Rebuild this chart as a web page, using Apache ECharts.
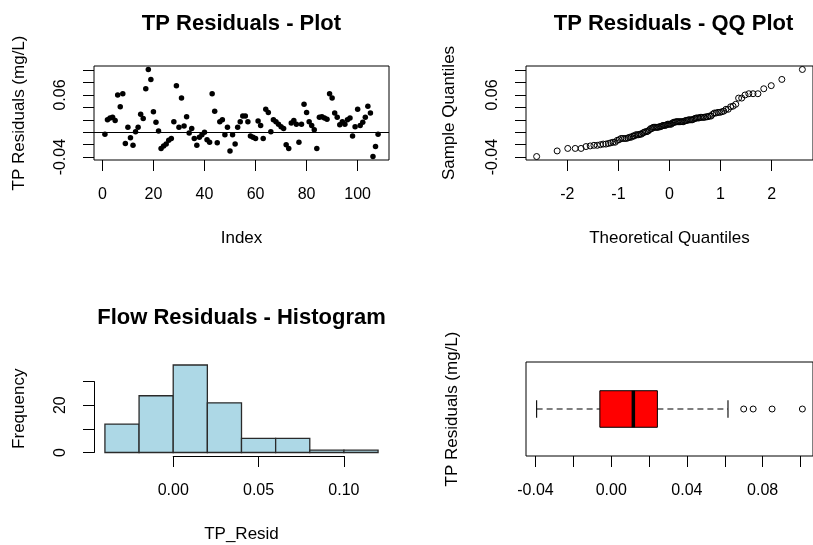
<!DOCTYPE html>
<html><head><meta charset="utf-8">
<script src="https://cdn.jsdelivr.net/npm/echarts@6/dist/echarts.min.js"></script>
<style>html,body{margin:0;padding:0;background:#fff}#c{width:813px;height:545px}</style>
</head><body><div id="c"></div>
<script>
// ---- data ----
const tpResid = [
 -0.003, 0.020, 0.023, 0.024, 0.019, 0.060, 0.041, 0.062, -0.018, 0.008,
 -0.009, -0.021, 0.001, 0.008, 0.029, 0.022, 0.070, 0.101, 0.085, 0.033,
 0.016, 0.002, -0.026, -0.022, -0.019, -0.013, -0.010, 0.017, 0.075, 0.008,
 0.055, 0.010, 0.025, -0.001, 0.006, -0.010, -0.021, -0.008, -0.004, 0.000,
 -0.012, -0.016, 0.062, 0.034, -0.017, 0.017, 0.020, -0.004, 0.008, -0.030,
 -0.004, -0.019, 0.008, 0.017, 0.026, 0.026, 0.017, -0.006, -0.008, -0.010,
 0.018, 0.011, -0.010, 0.037, 0.032, 0.001, 0.020, 0.017, 0.013, 0.009,
 0.006, -0.020, -0.026, 0.015, 0.019, 0.013, -0.016, 0.013, 0.045, 0.032,
 0.017, 0.011, 0.004, -0.026, 0.024, 0.025, 0.023, 0.021, 0.062, 0.055,
 0.031, 0.024, 0.012, 0.017, 0.013, 0.020, 0.023, -0.006, 0.009, 0.037,
 0.011, 0.016, 0.024, 0.042, 0.031, -0.039, -0.023, -0.003
];
const histBreaks = [-0.04, -0.02, 0.00, 0.02, 0.04, 0.06, 0.08, 0.10, 0.12];
const histCounts = [12, 24, 37, 21, 6, 6, 1, 1];
const boxStats = [-0.0394, -0.0060, 0.0117, 0.0244, 0.0617]; // min, Q1, median, Q3, max
const boxOutliers = [0.070, 0.075, 0.085, 0.101];

// ---- tick labels ----
const residTicks = [-0.04, -0.02, 0.00, 0.02, 0.04, 0.06, 0.08, 0.10];
const residLabels = [-0.04, 0.06];
const indexTicks = [0, 20, 40, 60, 80, 100];
const qqTicks = [-2, -1, 0, 1, 2];
const histXTicks = [0.00, 0.05, 0.10];
const histYTicks = [0, 10, 20, 30];
const histYLabels = [0, 20];
const boxTicks = [-0.04, -0.02, 0.00, 0.02, 0.04, 0.06, 0.08, 0.10];
const boxLabels = [-0.04, 0.00, 0.04, 0.08];

// ---- helpers ----
function rng(a, b) { const d = (b - a) * 0.04; return [a - d, b + d]; }
function qnorm(p) {
  const a=[-3.969683028665376e+01,2.209460984245205e+02,-2.759285104469687e+02,1.383577518672690e+02,-3.066479806614716e+01,2.506628277459239e+00];
  const b=[-5.447609879822406e+01,1.615858368580409e+02,-1.556989798598866e+02,6.680131188771972e+01,-1.328068155288572e+01];
  const c=[-7.784894002430293e-03,-3.223964580411365e-01,-2.400758277161838e+00,-2.549732539343734e+00,4.374664141464968e+00,2.938163982698783e+00];
  const d=[7.784695709041462e-03,3.224671290700398e-01,2.445134137142996e+00,3.754408661907416e+00];
  const pl=0.02425; let q, r;
  if (p < pl) { q=Math.sqrt(-2*Math.log(p)); return (((((c[0]*q+c[1])*q+c[2])*q+c[3])*q+c[4])*q+c[5])/((((d[0]*q+d[1])*q+d[2])*q+d[3])*q+1); }
  if (p <= 1-pl) { q=p-0.5; r=q*q; return (((((a[0]*r+a[1])*r+a[2])*r+a[3])*r+a[4])*r+a[5])*q/(((((b[0]*r+b[1])*r+b[2])*r+b[3])*r+b[4])*r+1); }
  q=Math.sqrt(-2*Math.log(1-p)); return -(((((c[0]*q+c[1])*q+c[2])*q+c[3])*q+c[4])*q+c[5])/((((d[0]*q+d[1])*q+d[2])*q+d[3])*q+1);
}

const n = tpResid.length;
const plotData = tpResid.map((v, i) => [i + 1, v]);
const sorted = tpResid.slice().sort((x, y) => x - y);
const qqData = sorted.map((v, i) => [qnorm((i + 1 - 0.5) / n), v]);
const residRange = rng(Math.min(...tpResid), Math.max(...tpResid));
const idxRange = rng(1, n);
const qqRange = rng(qqData[0][0], qqData[n - 1][0]);
const histXRange = rng(histBreaks[0], histBreaks[histBreaks.length - 1]);
const histYRange = rng(0, Math.max(...histCounts));
const boxXRange = rng(Math.min(boxStats[0], ...boxOutliers), Math.max(boxStats[4], ...boxOutliers));
const boxPos = 1;
const boxYRange = rng(0.5, 1.5);
const histData = histCounts.map((c, i) => [histBreaks[i], histBreaks[i + 1], c]);

const FONT = 'Liberation Sans, Arial, sans-serif';
const TICK = 16, NAME = 17;

const G0 = {left: 94, top: 66, width: 295, height: 94};
const G1 = {left: 526, top: 66, width: 295, height: 94};
const G2 = {left: 94, top: 361.5, width: 295, height: 94.5};
const G5 = {left: 526, top: 362, width: 295, height: 94};
const xs = histXRange[1] - histXRange[0];
const G3 = {left: G2.left + (histXTicks[0] - histXRange[0]) / xs * G2.width,
            width: (histXTicks[histXTicks.length-1] - histXTicks[0]) / xs * G2.width,
            top: G2.top, height: G2.height};
const ys = histYRange[1] - histYRange[0];
const yTop = histYTicks[histYTicks.length-1];
const G4 = {left: G2.left, width: G2.width,
            top: G2.top + (histYRange[1] - yTop) / ys * G2.height,
            height: (yTop - histYTicks[0]) / ys * G2.height};

function frameGrid(g) { return Object.assign({show: true, borderColor: '#000', borderWidth: 1, backgroundColor: 'transparent', containLabel: false}, g); }
function plainGrid(g) { return Object.assign({show: false, containLabel: false}, g); }

function axis(gi, r, ticks, labels, fmt, extra, labelExtra) {
  return Object.assign({
    type: 'value', gridIndex: gi, min: r[0], max: r[1], scale: true,
    axisLine: {show: false, onZero: false},
    splitLine: {show: false},
    axisTick: {show: true, inside: false, length: 11, customValues: ticks, lineStyle: {color: '#000', width: 1}},
    axisLabel: Object.assign({show: true, customValues: labels, formatter: fmt, color: '#000', fontSize: TICK, fontFamily: FONT, margin: 27}, labelExtra || {}),
    nameTextStyle: {color: '#000', fontSize: NAME, fontFamily: FONT},
    nameLocation: 'middle'
  }, extra || {});
}
const f2 = v => Number(v).toFixed(2);
const fi = v => String(Math.round(v));
const hidden = (gi, r) => ({type: 'value', gridIndex: gi, min: r[0], max: r[1], show: false});
const rot = {rotate: 90, margin: 25};

const option = {
  animation: false,
  backgroundColor: '#fff',
  title: [
    {text: 'TP Residuals - Plot', left: 241.5, top: 12.5, textAlign: 'center', padding: 0,
     textStyle: {fontSize: 22, fontWeight: 'bold', fontFamily: FONT, color: '#000'}},
    {text: 'TP Residuals - QQ Plot', left: 673.5, top: 12.5, textAlign: 'center', padding: 0,
     textStyle: {fontSize: 22, fontWeight: 'bold', fontFamily: FONT, color: '#000'}},
    {text: 'Flow Residuals - Histogram', left: 241.5, top: 307, textAlign: 'center', padding: 0,
     textStyle: {fontSize: 22, fontWeight: 'bold', fontFamily: FONT, color: '#000'}}
  ],
  grid: [frameGrid(G0), frameGrid(G1), plainGrid(G2), plainGrid(G3), plainGrid(G4), frameGrid(G5)],
  xAxis: [
    axis(0, idxRange, indexTicks, indexTicks, fi, {name: 'Index', nameGap: 70}),
    axis(1, qqRange, qqTicks, qqTicks, fi, {name: 'Theoretical Quantiles', nameGap: 70}),
    axis(2, histXRange, [], [], f2, {name: 'TP_Resid', nameGap: 70, axisTick: {show: false}, axisLabel: {show: false}}),
    axis(3, [histXTicks[0], histXTicks[histXTicks.length-1]], histXTicks, histXTicks, f2,
         {axisLine: {show: true, onZero: false, lineStyle: {color: '#000', width: 1}}}),
    hidden(4, [0, 1]),
    axis(5, boxXRange, boxTicks, boxLabels, f2)
  ],
  yAxis: [
    axis(0, residRange, residTicks, residLabels, f2, {name: 'TP Residuals (mg/L)', nameGap: 66, nameRotate: 90}, rot),
    axis(1, residRange, residTicks, residLabels, f2, {name: 'Sample Quantiles', nameGap: 68, nameRotate: 90}, rot),
    axis(2, histYRange, [], [], fi, {name: 'Frequency', nameGap: 66, nameRotate: 90, axisTick: {show: false}, axisLabel: {show: false}}),
    hidden(3, [0, 1]),
    axis(4, [histYTicks[0], yTop], histYTicks, histYLabels, fi,
         {axisLine: {show: true, onZero: false, lineStyle: {color: '#000', width: 1}}}, rot),
    axis(5, boxYRange, [], [], fi, {name: 'TP Residuals (mg/L)', nameGap: 65, nameRotate: 90, axisTick: {show: false}, axisLabel: {show: false}})
  ],
  series: [
    {type: 'scatter', xAxisIndex: 0, yAxisIndex: 0, data: plotData, symbol: 'circle', symbolSize: 5.5, clip: false,
     itemStyle: {color: '#000', opacity: 1},
     markLine: {silent: true, symbol: ['none', 'none'], label: {show: false},
                lineStyle: {color: '#000', width: 1, type: 'solid'}, data: [{yAxis: 0}]}},
    {type: 'scatter', xAxisIndex: 1, yAxisIndex: 1, data: qqData, symbol: 'circle', symbolSize: 6, clip: false,
     itemStyle: {color: 'rgba(0,0,0,0)', borderColor: '#000', borderWidth: 1, opacity: 1}},
    {type: 'custom', xAxisIndex: 2, yAxisIndex: 2, data: histData, encode: {x: [0, 1], y: 2},
     renderItem: function (params, api) {
       const p0 = api.coord([api.value(0), api.value(2)]);
       const p1 = api.coord([api.value(1), 0]);
       return {type: 'rect', shape: {x: p0[0], y: p0[1], width: p1[0] - p0[0], height: p1[1] - p0[1]},
               style: {fill: '#ADD8E6', stroke: '#2a2a2a', lineWidth: 1.3}};
     }},
    {type: 'custom', xAxisIndex: 5, yAxisIndex: 5, data: [boxStats.concat([boxPos])], encode: {x: [0, 1, 2, 3, 4], y: 5},
     renderItem: function (params, api) {
       const pos = api.value(5);
       const P = v => api.coord([api.value(v), pos]);
       const half = api.size([0, 0.21])[1];
       const staple = api.size([0, 0.1])[1];
       const mn = P(0), q1 = P(1), md = P(2), q3 = P(3), mx = P(4);
       const cy = mn[1];
       const dash = {stroke: '#000', lineWidth: 1.1, lineDash: [6, 4]};
       const solid = {stroke: '#000', lineWidth: 1.1};
       return {type: 'group', children: [
         {type: 'line', shape: {x1: mn[0], y1: cy, x2: q1[0], y2: cy}, style: dash},
         {type: 'line', shape: {x1: q3[0], y1: cy, x2: mx[0], y2: cy}, style: dash},
         {type: 'line', shape: {x1: mn[0], y1: cy - staple, x2: mn[0], y2: cy + staple}, style: solid},
         {type: 'line', shape: {x1: mx[0], y1: cy - staple, x2: mx[0], y2: cy + staple}, style: solid},
         {type: 'rect', shape: {x: q1[0], y: cy - half, width: q3[0] - q1[0], height: 2 * half},
          style: {fill: '#FF0000', stroke: '#000', lineWidth: 1}},
         {type: 'line', shape: {x1: md[0], y1: cy - half, x2: md[0], y2: cy + half}, style: {stroke: '#000', lineWidth: 3.5}}
       ]};
     }},
    {type: 'scatter', xAxisIndex: 5, yAxisIndex: 5, data: boxOutliers.map(v => [v, boxPos]), symbol: 'circle', symbolSize: 6, clip: false,
     itemStyle: {color: '#fff', borderColor: '#000', borderWidth: 1, opacity: 1}}
  ]
};
const chart = echarts.init(document.getElementById('c'), null, {renderer: 'canvas'});
chart.setOption(option);
</script>
</body></html>
